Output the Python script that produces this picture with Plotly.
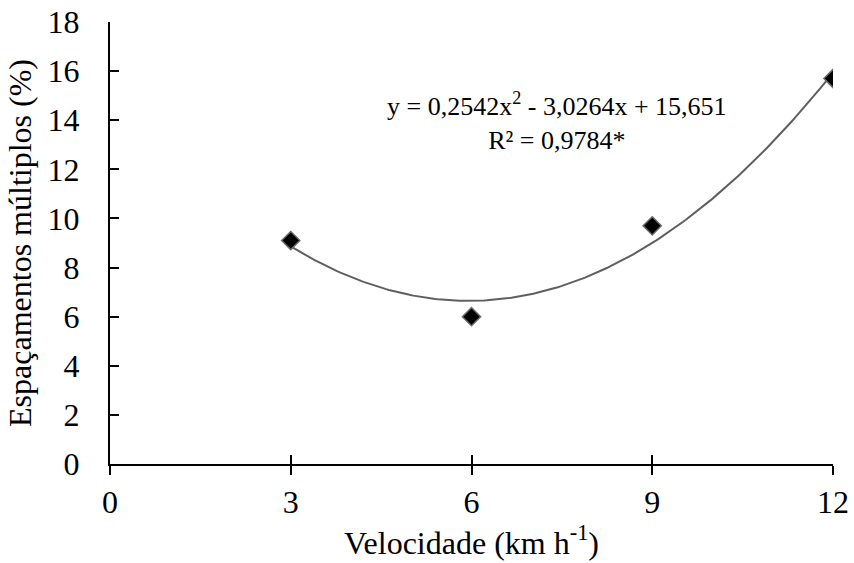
import numpy as np
import plotly.graph_objects as go

# Data
velocidade = [3, 6, 9, 12]
espacamentos = [9.1, 6.0, 9.7, 15.7]
x_ticks = [0, 3, 6, 9, 12]
y_ticks = [0, 2, 4, 6, 8, 10, 12, 14, 16, 18]
coef = [0.2542, -3.0264, 15.651]  # quadratic trendline shown on chart
equation_text = "y = 0,2542x<sup>2</sup> - 3,0264x + 15,651<br>R² = 0,9784*"

xc = np.linspace(min(velocidade), max(velocidade), 200)
yc = coef[0] * xc**2 + coef[1] * xc + coef[2]

FONT = "Liberation Serif, Times New Roman, serif"
FS = 32

fig = go.Figure()
fig.add_trace(go.Scatter(x=xc, y=yc, mode="lines",
                         line=dict(color="#5f5f5f", width=2), showlegend=False,
                         hoverinfo="skip"))
fig.add_trace(go.Scatter(x=velocidade, y=espacamentos, mode="markers",
                         marker=dict(symbol="diamond", size=14, color="black",
                                     line=dict(color="#6a6a6a", width=1.5)),
                         showlegend=False))
# invisible trace for secondary overlay axis (cross ticks)
fig.add_trace(go.Scatter(x=[0], y=[0], xaxis="x2", mode="markers",
                         marker=dict(opacity=0), showlegend=False, hoverinfo="skip"))

fig.add_annotation(x=7.42, y=13.95, xref="x", yref="y", text=equation_text,
                   showarrow=False, align="center",
                   font=dict(family=FONT, size=26, color="black"))

fig.update_layout(
    width=854, height=563,
    margin=dict(l=110, r=21, t=22, b=99),
    paper_bgcolor="white", plot_bgcolor="white",
    font=dict(family=FONT, size=FS, color="black"),
    xaxis=dict(range=[0, 12], tickvals=x_ticks, ticks="outside", ticklen=9,
               tickwidth=2, tickcolor="black", showline=True, linecolor="black",
               linewidth=2, showgrid=False, zeroline=False, automargin=False,
               tickfont=dict(family=FONT, size=FS),
               title=dict(text="Velocidade (km h<sup>-1</sup>)", standoff=6,
                          font=dict(family=FONT, size=FS))),
    xaxis2=dict(range=[0, 12], tickvals=x_ticks, ticks="inside", ticklen=9,
                tickwidth=2, tickcolor="black", overlaying="x", anchor="y",
                side="bottom", showticklabels=False, showline=False,
                showgrid=False, zeroline=False, automargin=False),
    yaxis=dict(range=[0, 18], tickvals=y_ticks, ticks="inside", ticklen=9,
               tickwidth=2, tickcolor="black", showline=True, linecolor="black",
               linewidth=2, showgrid=False, zeroline=False, automargin=False,
               ticklabelstandoff=22,
               tickfont=dict(family=FONT, size=FS),
               title=dict(text="Espaçamentos múltiplos (%)", standoff=6,
                          font=dict(family=FONT, size=FS))),
)

fig.write_html("out.html", config={"displayModeBar": False},
               post_script="document.body.style.margin='0';document.body.style.overflow='hidden';")
